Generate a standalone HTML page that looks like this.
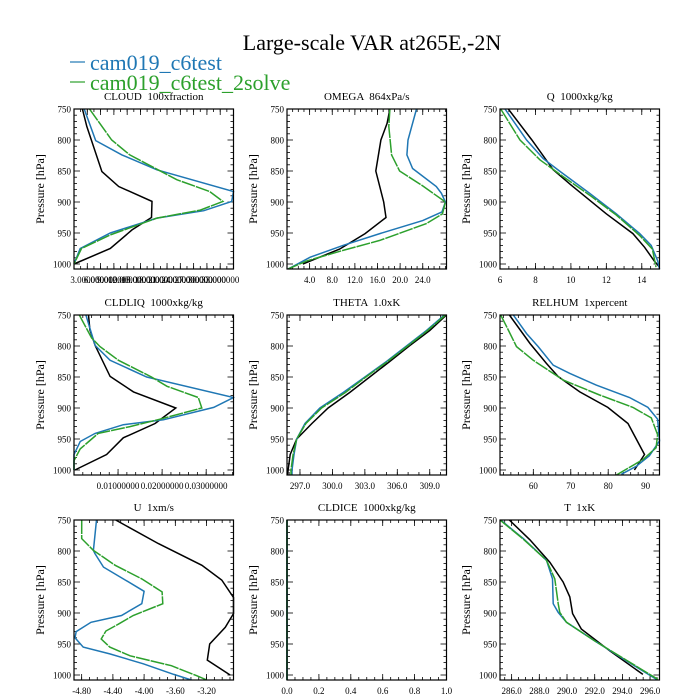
<!DOCTYPE html>
<html><head><meta charset="utf-8">
<style>
html,body{margin:0;padding:0;background:#fff;}
svg{display:block;font-family:"Liberation Serif",serif;}
.pt{white-space:pre;}
</style></head>
<body>
<svg id="chart" width="700" height="700" viewBox="0 0 700 700" xmlns="http://www.w3.org/2000/svg">
<text x="372" y="50" font-size="22" text-anchor="middle">Large-scale VAR at265E,-2N</text>
<g>
<line x1="70" y1="62" x2="85" y2="62" stroke="#1f77b4" stroke-width="1.2"/>
<text x="90" y="70" font-size="22" fill="#1f77b4">cam019_c6test</text>
<line x1="70" y1="82" x2="85" y2="82" stroke="#2ca02c" stroke-width="1.2"/>
<text x="90" y="90" font-size="22" fill="#2ca02c">cam019_c6test_2solve</text>
</g>
</svg>
<script>
const cloudBlueP=[750,801,824,848,883,899,914,926,950,975,1000];
const cloudBlueX=[2.3,4.9,10.8,18.7,36,35.6,29.3,18.7,8.2,1.4,0];
const cloudGreenP=[750,800,824,864,883,899,913,926,953,975,1000];
const cloudGreenX=[3.5,8.5,12.6,23.2,30.6,33.6,28.5,18.7,8.2,1.7,0];
const cloudBlackP=[750,778,851,875,899,925,945,975,1000];
const cloudBlackX=[1.9,2.9,6.3,10.1,17.6,17.5,13.1,8.2,0];

const omegaBlueP=[750,800,824,846,875,886,900,916,930,951,970,989,1008];
const omegaBlueX=[22.9,21.4,21.2,22.2,26.4,27.3,28.0,27.4,24.0,16.4,9.9,4.1,0.2];
const omegaGreenP=[750,778,824,850,874,900,919,935,962,978,995,1008];
const omegaGreenX=[18.2,18.0,18.5,19.9,24.0,28.0,27.5,24.6,16.4,9.9,3.5,0.2];
const omegaBlackP=[750,773,800,850,900,925,951,976,1000];
const omegaBlackX=[18.2,17.7,16.6,15.7,17.1,17.5,13.8,9.3,2.8];

const qBlueP=[750,800,830,851,886,919,951,970,995,1008];
const qBlueX=[6.28,7.5,8.44,9.4,11.06,12.56,13.88,14.53,14.9,15];
const qGreenP=[750,800,832,859,889,921,954,976,1005];
const qGreenX=[6.04,7.13,8.25,9.56,11.06,12.56,13.88,14.6,14.8];
const qBlackP=[750,800,848,873,919,951,973,995,1005];
const qBlackX=[6.47,7.8,9.0,10.03,12.0,13.5,14.16,14.7,15];

const liqBlueP=[750,799,823,850,883,899,919,927,941,954,975,1000];
const liqBlueX=[0.0027,0.0048,0.0082,0.0165,0.0362,0.0317,0.0203,0.0112,0.0048,0.0014,0,0];
const liqGreenP=[750,787,801,823,850,865,883,900,918,930,941,966,985,1000];
const liqGreenX=[0.0012,0.004,0.0059,0.0101,0.0176,0.0211,0.0282,0.029,0.0195,0.0127,0.0055,0.0014,0,0];
const liqBlackP=[750,774,799,849,874,900,925,948,975,1000];
const liqBlackX=[0.0033,0.0036,0.0048,0.0082,0.0135,0.0231,0.0184,0.0112,0.0074,0.0002];

const thetaP=[750,775,800,825,850,875,900,925,950,975,1000,1008];
const thetaBlueX=[310.36,308.7,306.85,305.0,303.0,301.0,298.84,297.46,296.7,296.45,296.26,296.26];
const thetaGreenX=[310.45,308.8,306.95,305.1,303.1,301.2,299.0,297.55,296.7,296.36,296.17,296.17];
const thetaBlackP=[750,775,800,825,850,875,900,925,950,975,1000,1008];
const thetaBlackX=[310.55,309.0,307.1,305.3,303.45,301.6,299.6,298.1,296.7,296.1,295.9,295.85];

const rhBlueP=[750,780,801,831,844,863,883,899,918,953,977,994,1007];
const rhBlueX=[54.65,58.2,61.3,65.3,69.7,76.8,85.7,90.6,93.2,93.7,91.0,87.5,83.5];
const rhGreenP=[750,769,801,823,855,879,899,916,943,964,983,1008];
const rhGreenX=[51.3,52.9,55.5,60.0,68.0,77.7,86.6,91.5,93.2,92.8,89.3,82.2];
const rhBlackP=[750,796,828,849,874,899,925,975,1000];
const rhBlackX=[53.6,59.1,63.5,66.6,72.4,79.9,85.3,89.7,87.0];

const uBlueP=[750,799,804,826,847,865,885,904,915,930,940,955,966,982,999,1009];
const uBlueX=[-4.61,-4.65,-4.63,-4.52,-4.24,-4.0,-4.03,-4.29,-4.68,-4.87,-4.885,-4.78,-4.44,-4.01,-3.62,-3.37];
const uGreenP=[750,780,799,823,845,866,885,904,918,929,942,955,969,985,1001,1010];
const uGreenX=[-4.8,-4.8,-4.65,-4.37,-4.03,-3.77,-3.76,-4.14,-4.33,-4.49,-4.55,-4.44,-4.18,-3.65,-3.33,-3.16];
const uBlackP=[750,788,823,847,875,901,923,950,976,1000];
const uBlackX=[-4.364,-3.817,-3.26,-3.005,-2.855,-2.855,-2.96,-3.16,-3.19,-2.898];

const iceP=[750,1008];
const iceBlueX=[0,0];
const iceGreenX=[0,0];
const iceBlackX=[0,0];

const tBlueP=[750,780,815,845,885,899,915,945,977,1010];
const tBlueX=[285.2,286.84,288.52,288.95,289.0,289.36,289.96,292.0,294.28,296.68];
const tGreenP=[750,780,815,845,885,899,915,945,976,1007];
const tGreenX=[285.16,286.8,288.52,289.12,289.36,289.48,289.96,292.0,294.28,296.56];
const tBlackP=[750,782,818,850,874,901,926,961,999];
const tBlackX=[285.83,287.32,288.76,289.72,290.2,290.4,291.04,293.08,295.48];

const yTickLabels=[750,800,850,900,950,1000];
const cloudTicks=[3,6,9,12,15,18,21,24,27,30,33];
const omegaTicks=[4,8,12,16,20,24];
const qTicks=[6,8,10,12,14];
const liqTicks=[0.01,0.02,0.03];
const thetaTicks=[297,300,303,306,309];
const rhTicks=[60,70,80,90];
const uTicks=[-4.8,-4.4,-4.0,-3.6,-3.2];
const iceTicks=[0,0.2,0.4,0.6,0.8,1.0];
const tTicks=[286,288,290,292,294,296];

const panels=[
 {name:'cloud',title:'CLOUD  100xfraction',col:0,row:0,xmin:0,xmax:36,ticks:cloudTicks,fmt:v=>v.toFixed(6),minor:1.5,
  s:[[cloudBlueP,cloudBlueX],[cloudGreenP,cloudGreenX],[cloudBlackP,cloudBlackX]]},
 {name:'omega',title:'OMEGA  864xPa/s',col:1,row:0,xmin:0,xmax:28.2,ticks:omegaTicks,fmt:v=>v.toFixed(1),minor:1,
  s:[[omegaBlueP,omegaBlueX],[omegaGreenP,omegaGreenX],[omegaBlackP,omegaBlackX]]},
 {name:'q',title:'Q  1000xkg/kg',col:2,row:0,xmin:6,xmax:15,ticks:qTicks,fmt:v=>String(v),minor:0.5,
  s:[[qBlueP,qBlueX],[qGreenP,qGreenX],[qBlackP,qBlackX]]},
 {name:'cldliq',title:'CLDLIQ  1000xkg/kg',col:0,row:1,xmin:0,xmax:0.0362,ticks:liqTicks,fmt:v=>v.toFixed(8),minor:0.002,
  s:[[liqBlueP,liqBlueX],[liqGreenP,liqGreenX],[liqBlackP,liqBlackX]]},
 {name:'theta',title:'THETA  1.0xK',col:1,row:1,xmin:295.8,xmax:310.55,ticks:thetaTicks,fmt:v=>v.toFixed(1),minor:1,
  s:[[thetaP,thetaBlueX],[thetaP,thetaGreenX],[thetaBlackP,thetaBlackX]]},
 {name:'relhum',title:'RELHUM  1xpercent',col:2,row:1,xmin:51.1,xmax:93.7,ticks:rhTicks,fmt:v=>String(v),minor:2,
  s:[[rhBlueP,rhBlueX],[rhGreenP,rhGreenX],[rhBlackP,rhBlackX]]},
 {name:'u',title:'U  1xm/s',col:0,row:2,xmin:-4.898,xmax:-2.855,ticks:uTicks,fmt:v=>v.toFixed(2),minor:0.1,
  s:[[uBlueP,uBlueX],[uGreenP,uGreenX],[uBlackP,uBlackX]]},
 {name:'cldice',title:'CLDICE  1000xkg/kg',col:1,row:2,xmin:0,xmax:1,ticks:iceTicks,fmt:v=>v.toFixed(1),minor:0.05,
  s:[[iceP,iceBlueX],[iceP,iceGreenX],[iceP,iceBlackX]]},
 {name:'t',title:'T  1xK',col:2,row:2,xmin:285.16,xmax:296.68,ticks:tTicks,fmt:v=>v.toFixed(1),minor:0.5,
  s:[[tBlueP,tBlueX],[tGreenP,tGreenX],[tBlackP,tBlackX]]}
];
const colX=[74,287,500], rowY=[109,315,520], W=159.5, PH=160;
const colors=['#1f77b4','#2ca02c','#000'];
const seriesNames=['c6test','2solve','obs'];
const NS='http://www.w3.org/2000/svg';
const svg=document.getElementById('chart');
function mk(tag,attrs,parent){const e=document.createElementNS(NS,tag);for(const k in attrs)e.setAttribute(k,attrs[k]);(parent||svg).appendChild(e);return e;}

panels.forEach(p=>{
  const x0=colX[p.col], y0=rowY[p.row];
  const xs=v=>x0+(v-p.xmin)/(p.xmax-p.xmin)*W;
  const ys=pr=>y0+(pr-750)*0.62;
  const g=mk('g',{});
  
  
  const t=mk('text',{x:x0+W/2,y:y0-9,'font-size':11,'text-anchor':'middle','class':'pt'},g);
  t.textContent=p.title;
  
  
  const yt=mk('text',{x:0,y:0,'font-size':12,'text-anchor':'middle',transform:`translate(${x0-30},${y0+80}) rotate(-90)`},g);
  yt.textContent='Pressure [hPa]';
  
  
  for(let pr=750;pr<=1000;pr+=10){
    const y=ys(pr), major=pr%50===0, L=major?6:3;
    mk('line',{x1:x0,y1:y,x2:x0+L,y2:y,stroke:'#000','stroke-width':0.8},g);
    mk('line',{x1:x0+W,y1:y,x2:x0+W-L,y2:y,stroke:'#000','stroke-width':0.8},g);
  }
  yTickLabels.forEach(v=>{
    const l=mk('text',{x:x0-3,y:ys(v)+3.5,'font-size':9,'text-anchor':'end'},g);
    l.textContent=String(v);
    
    
  });
  const yb=y0+PH;
  const start=Math.ceil(p.xmin/p.minor);
  for(let i=start;i*p.minor<=p.xmax+1e-9;i++){
    const x=xs(i*p.minor);
    mk('line',{x1:x,y1:yb,x2:x,y2:yb-3,stroke:'#000','stroke-width':0.8},g);
    mk('line',{x1:x,y1:y0,x2:x,y2:y0+3,stroke:'#000','stroke-width':0.8},g);
  }
  p.ticks.forEach(v=>{
    const x=xs(v);
    mk('line',{x1:x,y1:yb,x2:x,y2:yb-6,stroke:'#000','stroke-width':0.8},g);
    mk('line',{x1:x,y1:y0,x2:x,y2:y0+6,stroke:'#000','stroke-width':0.8},g);
    const l=mk('text',{x:x,y:yb+14,'font-size':9,'text-anchor':'middle'},g);
    l.textContent=p.fmt(v);
    
    
  });
  const clip='clip-'+p.name;
  const cp=mk('clipPath',{id:clip},g);
  mk('rect',{x:x0-1,y:y0,width:W+2,height:PH},cp);
  [2,0,1].forEach(si=>{
    const [P,X]=p.s[si];
    const d=P.map((pr,i)=>(i?'L':'M')+xs(X[i]).toFixed(1)+','+ys(pr).toFixed(1)).join(' ');
    const path=mk('path',{d:d,fill:'none',stroke:colors[si],'stroke-width':1.5,'clip-path':`url(#${clip})`},g);
    if(si===1)path.setAttribute('stroke-dasharray','14,1');
    
    
  });
  const fr=mk('rect',{x:x0,y:y0,width:W,height:PH,fill:'none',stroke:'#000','stroke-width':1.2},g);
  
  
});
</script>
</body></html>
